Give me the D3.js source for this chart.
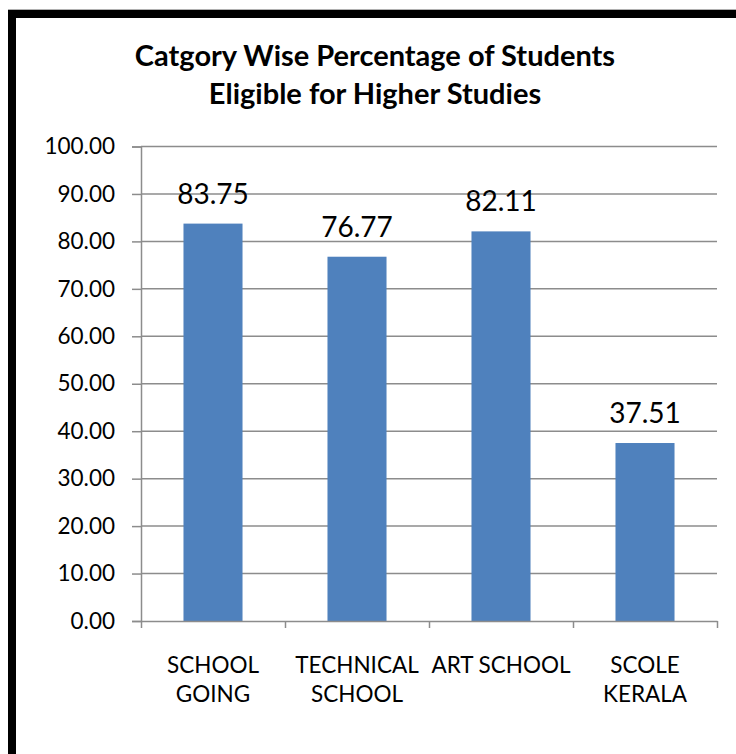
<!DOCTYPE html>
<html>
<head>
<meta charset="utf-8">
<script src="https://cdn.jsdelivr.net/npm/d3@7"></script>
<style>
  body { margin: 0; background: #fff; }
  text { font-family: Lato, "Open Sans", sans-serif; }
</style>
</head>
<body>
<div id="chart"></div>
<script>
var categories = [["SCHOOL", "GOING"], ["TECHNICAL", "SCHOOL"], ["ART SCHOOL"], ["SCOLE", "KERALA"]];
var values = [83.75, 76.77, 82.11, 37.51];
var yTicks = [0, 10, 20, 30, 40, 50, 60, 70, 80, 90, 100];
var titleLines = ["Catgory Wise Percentage of Students", "Eligible for Higher Studies"];

var svgWidth = 736, svgHeight = 754;
var margin = { top: 146.5, left: 141, right: 19, bottom: 133 };
var width = svgWidth - margin.left - margin.right;
var height = svgHeight - margin.top - margin.bottom;

var svg = d3.select("#chart").append("svg")
    .attr("width", svgWidth)
    .attr("height", svgHeight);

// frame, runs off the right and bottom edges
svg.append("rect")
    .attr("x", 8.5).attr("y", 9.5)
    .attr("width", 760).attr("height", 780)
    .attr("fill", "none").attr("stroke", "#b0b0b0").attr("stroke-width", 1);
svg.append("rect")
    .attr("x", 12).attr("y", 14)
    .attr("width", 760).attr("height", 780)
    .attr("fill", "none").attr("stroke", "#000").attr("stroke-width", 8);

svg.append("text")
    .attr("x", 375).attr("y", 66)
    .attr("text-anchor", "middle")
    .style("font-weight", "bold").style("font-size", "29px")
    .selectAll("tspan").data(titleLines).enter().append("tspan")
    .attr("x", 375).attr("dy", (d, i) => i ? 38 : 0)
    .text(d => d);

var g = svg.append("g")
    .attr("transform", "translate(" + margin.left + "," + margin.top + ")");

var x = d3.scaleBand().domain(d3.range(values.length)).range([0, width]).paddingInner(0.59).paddingOuter(0.295);
var xb = d3.scaleLinear().domain([0, values.length]).range([0, width]);
var y = d3.scaleLinear().domain([0, 100]).range([height, 0]);

// gridlines
g.selectAll(".grid").data(yTicks.slice(1)).enter().append("line")
    .attr("x1", 0).attr("x2", width)
    .attr("y1", d => y(d)).attr("y2", d => y(d))
    .attr("stroke", "#8c8c8c").attr("stroke-width", 1.5);

// y axis
var yAxis = g.append("g")
    .call(d3.axisLeft(y).tickValues(yTicks).tickFormat(d3.format(".2f")).tickSize(9).tickPadding(17));
yAxis.select(".domain").attr("stroke", "#8c8c8c").attr("stroke-width", 1.5);
yAxis.selectAll(".tick line").attr("stroke", "#8c8c8c").attr("stroke-width", 1.5);
yAxis.selectAll(".tick text").attr("fill", "#000").style("font-size", "22.5px").style("font-family", "Lato, sans-serif");

// bars
g.selectAll(".bar").data(values).enter().append("rect")
    .attr("x", (d, i) => x(i))
    .attr("width", x.bandwidth())
    .attr("y", d => y(d))
    .attr("height", d => height - y(d))
    .attr("fill", "#4f81bd");

// x axis
var xAxis = g.append("g")
    .attr("transform", "translate(0," + height + ")")
    .call(d3.axisBottom(xb).tickValues(d3.range(values.length + 1)).tickFormat("").tickSize(7).tickSizeOuter(0));
xAxis.select(".domain").attr("stroke", "#8c8c8c").attr("stroke-width", 1.5);
xAxis.selectAll(".tick line").attr("stroke", "#8c8c8c").attr("stroke-width", 1.5);

// category labels
g.selectAll(".cat").data(categories).enter().append("text")
    .attr("text-anchor", "middle")
    .attr("y", height + 52)
    .style("font-size", "22.5px")
    .each(function(d, i) {
        d3.select(this).selectAll("tspan").data(d).enter().append("tspan")
            .attr("x", x(i) + x.bandwidth() / 2)
            .attr("dy", (t, j) => j ? 29 : 0)
            .text(t => t);
    });

// value labels
g.selectAll(".val").data(values).enter().append("text")
    .attr("x", (d, i) => x(i) + x.bandwidth() / 2)
    .attr("y", d => y(d) - 20)
    .attr("text-anchor", "middle")
    .style("font-size", "28px")
    .text(d => d3.format(".2f")(d));
</script>
</body>
</html>
